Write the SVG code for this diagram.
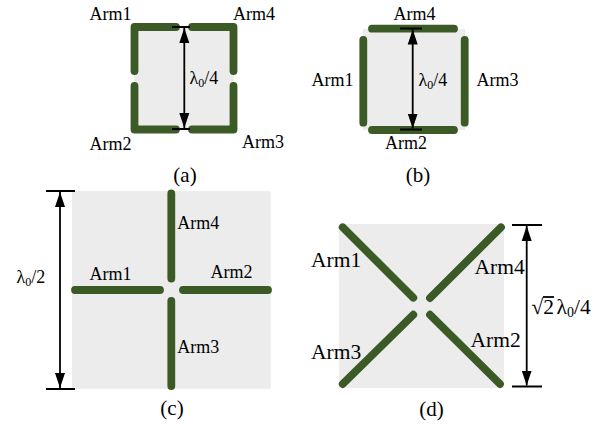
<svg xmlns="http://www.w3.org/2000/svg" width="599" height="426" viewBox="0 0 599 426">
<style>
.bg{fill:#ececec}
.arm{fill:none;stroke:#3b5a25;stroke-width:7.8;stroke-linecap:round;stroke-linejoin:round}
.dim{fill:none;stroke:#000;stroke-width:1.8}
.arr{marker-start:url(#ah);marker-end:url(#ah)}
text{font-family:"Liberation Serif","Times New Roman",serif;font-size:18px;fill:#000}
.d{font-size:21.500px}
.cap{font-size:21px;text-anchor:middle}
.sub{font-size:12px}
.d .sub{font-size:14px}
</style>
<defs>
<marker id="ah" markerUnits="userSpaceOnUse" markerWidth="16" markerHeight="11" refX="15" refY="5.500" orient="auto-start-reverse">
<path d="M0 0.500L15 5.500L0 10.500Z" fill="#000"/>
</marker>
</defs>
<rect width="599" height="426" fill="#fff"/>
<g id="panel-a">
<rect class="bg" x="134" y="27" width="100" height="102"/>
<path class="arm" d="M176 27H134.500V71M134.500 86V129.500H176M192 129.500H233.500V86M233.500 71V27H192"/>
<path class="dim" d="M172 27H190M172 129H190"/>
<path class="dim arr" d="M184.300 28V128"/>
<text x="89.500" y="20">Arm1</text><text x="233" y="20">Arm4</text>
<text x="89.500" y="150">Arm2</text><text x="242" y="148">Arm3</text>
<text x="189.500" y="84">λ<tspan class="sub" dy="3">0</tspan><tspan dy="-3">/4</tspan></text>
<text class="cap" x="185" y="182">(a)</text>
</g>
<g id="panel-b">
<rect class="bg" x="363" y="29" width="102" height="101"/>
<path class="arm" d="M363.300 40V122.700M464.700 40V122.700M372 28.700H454M372 130H454"/>
<path class="dim" d="M400 28.500H422M400 129.500H422"/>
<path class="dim arr" d="M412.700 29.500V128.500"/>
<text x="393.500" y="20">Arm4</text><text x="311.500" y="86">Arm1</text>
<text x="476.500" y="86">Arm3</text><text x="385" y="149">Arm2</text>
<text x="418.500" y="86">λ<tspan class="sub" dy="3">0</tspan><tspan dy="-3">/4</tspan></text>
<text class="cap" x="418" y="182">(b)</text>
</g>
<g id="panel-c">
<rect class="bg" x="72" y="191" width="198.700" height="198"/>
<path class="arm" d="M171.300 193.500V278.500M171.300 301V386M75 290H160M183 290H268"/>
<path class="dim" d="M46 191H75M46 389H75"/>
<path class="dim arr" d="M60 192V388"/>
<text x="177.300" y="229">Arm4</text><text x="89.500" y="280">Arm1</text>
<text x="210.500" y="278">Arm2</text><text x="177.300" y="352.500">Arm3</text>
<text x="16.500" y="283">λ<tspan class="sub" dy="3">0</tspan><tspan dy="-3">/2</tspan></text>
<text class="cap" x="172" y="415">(c)</text>
</g>
<g id="panel-d">
<rect class="bg" x="339" y="224" width="165" height="164"/>
<path class="arm" d="M342.700 227.300L413.300 297.700M501 227.300L430 298M342.700 384L413.300 314.700M430 314.700L500 384"/>
<path class="dim" d="M512 225H542M512 386.500H542"/>
<path class="dim arr" d="M526.700 226V385.500"/>
<g class="d">
<text class="d" x="311" y="267">Arm1</text><text class="d" x="474.500" y="274">Arm4</text>
<text class="d" x="311" y="359">Arm3</text><text class="d" x="470.500" y="346.500">Arm2</text>
<text class="d" x="531.500" y="314">√2</text>
<path class="dim" d="M543 297H554"/>
<text class="d" x="556.500" y="314">λ<tspan class="sub" dy="3">0</tspan><tspan dy="-3">/4</tspan></text>
</g>
<text class="cap" x="431.500" y="416">(d)</text>
</g>
</svg>
